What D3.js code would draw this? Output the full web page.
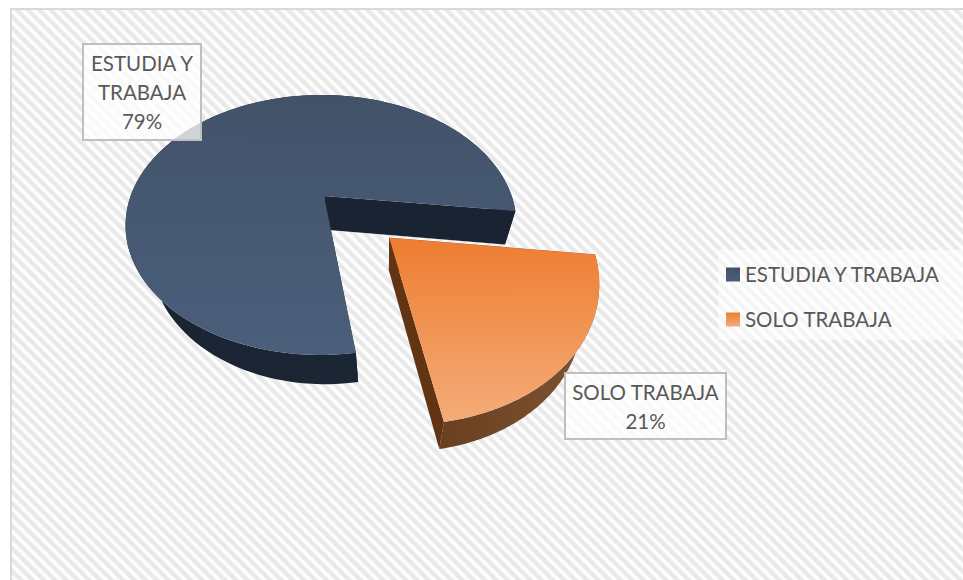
<!DOCTYPE html>
<html><head><meta charset="utf-8">
<style>html,body{margin:0;padding:0;background:#fff}svg{display:block}text{font-family:Lato,"Open Sans",sans-serif;fill:#595959}</style>
<script src="https://cdn.jsdelivr.net/npm/d3@7"></script></head>
<body><svg id="c" width="963" height="580"></svg>
<script>
const categories = ["ESTUDIA Y TRABAJA", "SOLO TRABAJA"];
const values = [79, 21];
const explode = [0, 0.45];
const labelLines = [["ESTUDIA Y", "TRABAJA", "79%"], ["SOLO TRABAJA", "21%"]];
const topColors = [["#425269", "#4b5f7b"], ["#ed7d31", "#f4ac78"]];
const rimColors = [["#1a2432", "#1c2737"], ["#6a4020", "#7d5534"]];
const wallColors = ["#1a2331", "#613514"];

const W = 963, H = 580;
const svg = d3.select("#c");
const defs = svg.append("defs");
const pat = defs.append("pattern").attr("id", "bg").attr("patternUnits", "userSpaceOnUse")
  .attr("width", 8).attr("height", 8).attr("patternTransform", "rotate(-45)");
const patGrad = defs.append("linearGradient").attr("id", "stripe");
[[0, "#fff"], [0.2, "#fff"], [0.45, "#e8e8e8"], [0.75, "#e8e8e8"], [1, "#fff"]].forEach(([o, c]) =>
  patGrad.append("stop").attr("offset", o).attr("stop-color", c));
pat.append("rect").attr("width", 8).attr("height", 8).attr("fill", "url(#stripe)");

values.forEach((v, i) => {
  const g = defs.append("linearGradient").attr("id", "top" + i).attr("x1", 0).attr("y1", 0).attr("x2", 0).attr("y2", 1);
  g.append("stop").attr("offset", 0).attr("stop-color", topColors[i][0]);
  g.append("stop").attr("offset", 1).attr("stop-color", topColors[i][1]);
});

svg.append("rect").attr("x", 11).attr("y", 9).attr("width", W).attr("height", H)
  .attr("fill", "url(#bg)").attr("stroke", "#d9d9d9").attr("stroke-width", 2);

// Perspective projection of the pie's unit disk
const cx = 324, cy = 196, rx = 190.5, ry = 123.5, k = 0.223, m = 0.015;
const project = ([x, y]) => {
  const d = 1 - k * y + m * x;
  return [cx + rx * x / d, cy + ry * y / d];
};
const lower = ([px, py]) => [
  px + 0.08 * (385 - px) + 0.03 * Math.max(0, 300 - px),
  py + 34 - 0.03 * (py - cy)
];

const pie = d3.pie().sort(null)
  .startAngle(172.5 * Math.PI / 180).endAngle((172.5 + 360) * Math.PI / 180);
const arcs = pie(values);
const line = d3.line();

const slices = arcs.map((a, i) => {
  const mid = (a.startAngle + a.endAngle) / 2;
  const ox = Math.sin(mid) * explode[i], oy = -Math.cos(mid) * explode[i];
  const rim = d3.range(0, 121).map(t => {
    const ang = a.startAngle + (a.endAngle - a.startAngle) * t / 120;
    return project([ox + Math.sin(ang), oy - Math.cos(ang)]);
  });
  return { i, apex: project([ox, oy]), rim };
});

const gSlices = svg.append("g");
slices.forEach(s => {
  const g = gSlices.append("g");
  const outline = [s.apex, ...s.rim];
  const xs = d3.extent(s.rim, d => d[0]);
  const rg = defs.append("linearGradient").attr("id", "rim" + s.i).attr("gradientUnits", "userSpaceOnUse")
    .attr("x1", xs[0]).attr("x2", xs[1]).attr("y1", 0).attr("y2", 0);
  rg.append("stop").attr("offset", 0).attr("stop-color", rimColors[s.i][0]);
  rg.append("stop").attr("offset", 1).attr("stop-color", rimColors[s.i][1]);
  g.append("path").attr("d", line([...s.rim, ...s.rim.map(lower).reverse()]) + "Z")
    .attr("fill", "url(#rim" + s.i + ")");
  [[s.apex, s.rim[0]], [s.rim[s.rim.length - 1], s.apex]].forEach(([p, q]) => {
    g.append("path").attr("d", line([p, q, lower(q), lower(p)]) + "Z").attr("fill", wallColors[s.i]);
  });
  g.append("path").attr("d", line(outline) + "Z").attr("fill", "url(#top" + s.i + ")");
});

// Data labels
const fontSize = 20.5;
const labelBoxes = [[83, 44, 118, 96], [565, 373, 161, 66]];
labelLines.forEach((lines, i) => {
  const [x, y, w, h] = labelBoxes[i];
  const g = svg.append("g");
  g.append("rect").attr("x", x).attr("y", y).attr("width", w).attr("height", h)
    .attr("fill", "#fff").attr("fill-opacity", 0.75).attr("stroke", "#bfbfbf").attr("stroke-width", 2);
  const lh = 29;
  lines.forEach((t, j) => {
    g.append("text").attr("x", x + w / 2).attr("y", y + h / 2 + (j - (lines.length - 1) / 2) * lh + 8)
      .attr("text-anchor", "middle").attr("font-size", fontSize).text(t);
  });
});

// Legend
const legend = svg.append("g");
legend.append("rect").attr("x", 718).attr("y", 250).attr("width", 245).attr("height", 90)
  .attr("fill", "#fff").attr("fill-opacity", 0.55);
categories.forEach((c, i) => {
  const y = 274.5 + i * 45;
  legend.append("rect").attr("x", 726).attr("y", y - 7).attr("width", 14).attr("height", 14)
    .attr("fill", "url(#top" + i + ")");
  legend.append("text").attr("x", 745).attr("y", y + 7).attr("font-size", fontSize).text(c);
});
</script></body></html>
